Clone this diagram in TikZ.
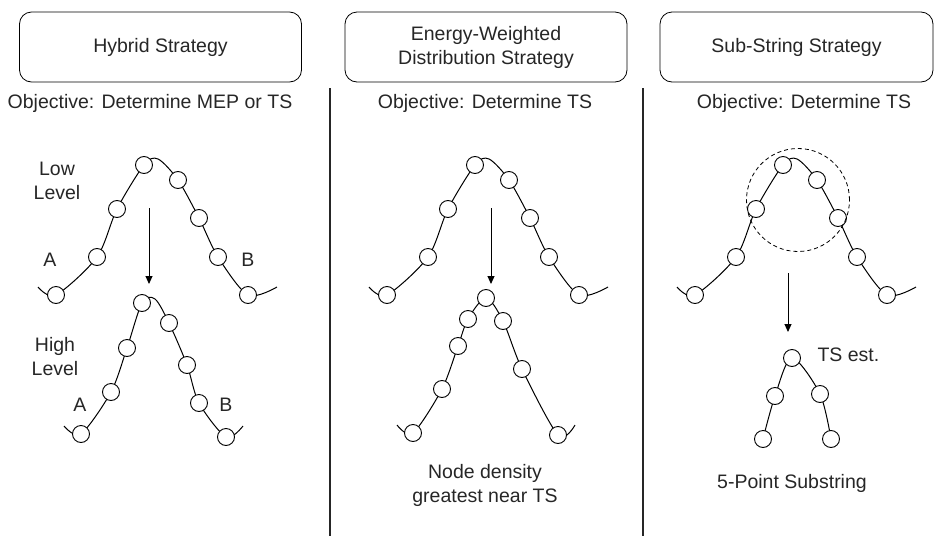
\documentclass[tikz,border=0pt]{standalone}
\usepackage{fontspec}
\setmainfont{Liberation Sans}
\usetikzlibrary{arrows.meta}
\usetikzlibrary{backgrounds}

% low-level string: eight beads on one barrier, names take the scope prefix
\newcommand{\barrier}{%
    \node[bead]         (b0) at (56, 295)     {};
    \node[bead]         (b1) at (97, 257)     {};
    \node[bead]         (b2) at (117, 209)    {};
    \node[bead]         (b3) at (144, 165)    {};
    \node[bead]         (b4) at (178, 180)    {};
    \node[bead]         (b5) at (199, 218)    {};
    \node[bead]         (b6) at (218, 257)    {};
    \node[bead]         (b7) at (248, 295)    {};
    \coordinate         (bl) at (38, 287);
    \coordinate         (bt) at (158, 159);
    \coordinate         (br) at (277, 287);
    \begin{pgfonlayer}{background}
      \draw[strand] plot[smooth] coordinates {(bl) (b0) (b1) (b2) (b3) (bt) (b4) (b5) (b6) (b7) (br)};
    \end{pgfonlayer}}

\begin{document}
\begin{tikzpicture}[x=1pt, y=-1pt,
    every node/.style={font=\fontsize{19.5}{24}\selectfont, text=black!85},
    strategy/.style={draw, rounded corners=12pt, minimum height=70pt, align=center, line width=0.8pt},
    bead/.style={circle, draw, fill=white, minimum size=17pt, inner sep=0pt, line width=0.9pt},
    strand/.style={line width=1pt},
    drop/.style={-{Triangle[length=8pt,width=7pt]}, line width=1pt},
    divider/.style={line width=2.4pt, black!85}]

    \useasboundingbox (0, 0) rectangle (935, 536);

    % headers
    \node[strategy, minimum width=282pt] (hybrid) at (160.5, 47)  {Hybrid Strategy};
    \node[strategy, minimum width=282pt] (ewd)    at (486, 47)    {Energy-Weighted\\Distribution Strategy};
    \node[strategy, minimum width=273pt] (sub)    at (796.5, 47)  {Sub-String Strategy};

    \node (obj1) at (150, 103)   {Objective: Determine MEP or TS};
    \node (obj2) at (485, 103)   {Objective: Determine TS};
    \node (obj3) at (804, 103)   {Objective: Determine TS};

    \draw[divider] (330, 88) -- (330, 536);
    \draw[divider] (643, 88) -- (643, 536);

    % upper strings, same barrier in every column
    \begin{scope}[name prefix=low-]
      \barrier
    \end{scope}
    \begin{scope}[shift={(331, 0)}, name prefix=ewu-]
      \barrier
    \end{scope}
    \begin{scope}[shift={(639, 0)}, name prefix=sst-]
      \barrier
    \end{scope}

    % hybrid: high level string
    \node[bead]         (h0) at (81, 434)     {};
    \node[bead]         (h1) at (111, 392)    {};
    \node[bead]         (h2) at (127, 348)    {};
    \node[bead]         (h3) at (142, 303)    {};
    \node[bead]         (h4) at (169, 323)    {};
    \node[bead]         (h5) at (187, 365)    {};
    \node[bead]         (h6) at (199, 403)    {};
    \node[bead]         (h7) at (226, 437)    {};
    \coordinate         (hl) at (64, 426);
    \coordinate         (ht) at (155, 299);
    \coordinate         (hr) at (243, 426);

    \node[align=center] (lowlbl) at (57, 181) {Low\\Level};
    \node[align=center] (highlbl) at (55, 357) {High\\Level};
    \node (lowA)  at (50, 260)    {A};
    \node (lowB)  at (248, 260)   {B};
    \node (highA) at (80, 405)    {A};
    \node (highB) at (226, 405)   {B};

    \coordinate (d1s) at (149, 208);
    \coordinate (d1e) at (149, 284);
    \draw[drop] (d1s) -- (d1e);

    % energy weighted: beads crowd the top
    \node[bead]         (e0) at (413, 433)    {};
    \node[bead]         (e1) at (442, 389)    {};
    \node[bead]         (e2) at (458, 346)    {};
    \node[bead]         (e3) at (468, 319)    {};
    \node[bead]         (e4) at (486, 298)    {};
    \node[bead]         (e5) at (503, 321)    {};
    \node[bead]         (e6) at (522, 369)    {};
    \node[bead]         (e7) at (558, 435)    {};
    \coordinate         (el) at (397, 425);
    \coordinate         (er) at (575, 425);

    \node[align=center] (density) at (485, 485) {Node density\\greatest near TS};

    \coordinate (d2s) at (491, 208);
    \coordinate (d2e) at (491, 284);
    \draw[drop] (d2s) -- (d2e);

    % sub-string: window round the top and 5 point substring
    \node[circle, draw, dashed, dash pattern=on 4pt off 3pt, minimum size=103pt, line width=0.8pt] (window) at (798, 200) {};

    \node[bead]         (s0) at (792, 358)    {};
    \node[bead]         (s1) at (775, 396)    {};
    \node[bead]         (s2) at (820, 394)    {};
    \node[bead]         (s3) at (763, 439)    {};
    \node[bead]         (s4) at (831, 439)    {};

    \node[anchor=west] (tsest) at (814, 355) {TS est.};
    \node (fivept) at (792, 483) {5-Point Substring};

    \coordinate (d3s) at (788, 273);
    \coordinate (d3e) at (788, 332);
    \draw[drop] (d3s) -- (d3e);

    \begin{pgfonlayer}{background}
      \draw[strand] plot[smooth] coordinates {(hl) (h0) (h1) (h2) (h3) (ht) (h4) (h5) (h6) (h7) (hr)};
      \draw[strand] plot[smooth] coordinates {(el) (e0) (e1) (e2) (e3) (e4) (e5) (e6) (e7) (er)};
      \draw[strand] plot[smooth] coordinates {(s3) (s1) (s0) (s2) (s4)};
    \end{pgfonlayer}
  \end{tikzpicture}
\end{document}
